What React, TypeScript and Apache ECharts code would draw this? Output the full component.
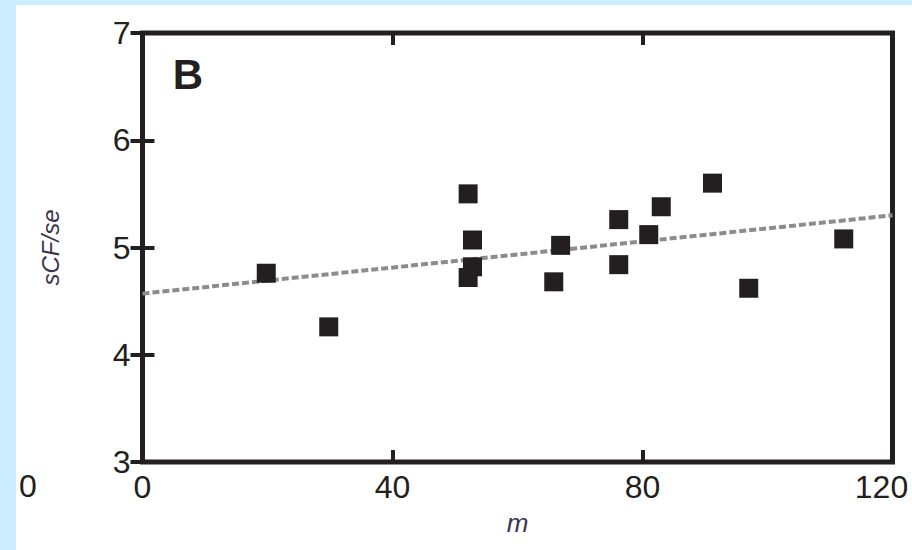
import React, { useEffect, useRef } from "react";
import * as echarts from "echarts";

// Measured points (m vs. ratio)
const xValues = [19.8, 29.8, 52.1, 52.8, 52.8, 52.1, 66.9, 65.8, 76.2, 76.2, 81.0, 83.0, 91.2, 97.0, 112.2];
const yValues = [4.76, 4.26, 5.5, 5.07, 4.82, 4.72, 5.02, 4.68, 5.26, 4.84, 5.12, 5.38, 5.6, 4.62, 5.08];

// Linear fit end points
const fitX = [0, 120];
const fitY = [4.57, 5.3];

// Axis ranges
const xRange = [0, 120];
const xStep = 40;
const yRange = [3, 7];
const yStep = 1;

const panelLabel = "B";
const xName = "m";
const yName = "sCF/se";
const strayLabel = "0";

const ink = "#231f20";
const labelFont = "'Liberation Sans', Arial, sans-serif";

export default function App() {
  const ref = useRef<HTMLDivElement>(null);

  useEffect(() => {
    if (!ref.current) return;
    const chart = echarts.init(ref.current, null, { renderer: "svg" });

    const points = xValues.map((x, i) => [x, yValues[i]]);
    const fit = fitX.map((x, i) => [x, fitY[i]]);

    const tick = { show: true, inside: true, length: 12, lineStyle: { color: ink, width: 4 } };
    const label = { color: ink, fontSize: 32, fontFamily: labelFont };

    chart.setOption({
      animation: false,
      backgroundColor: "#ffffff",
      grid: {
        left: 126.5,
        right: 19.5,
        top: 28,
        bottom: 88,
        outerBoundsMode: "none",
        containLabel: false,
        show: true,
        borderColor: ink,
        borderWidth: 5,
        backgroundColor: "transparent",
      },
      xAxis: [
        {
          type: "value",
          position: "bottom",
          min: xRange[0],
          max: xRange[1],
          interval: xStep,
          axisLine: { show: false },
          axisTick: tick,
          splitLine: { show: false },
          axisLabel: {
            ...label,
            margin: 9,
            // the last label is nudged left so it stays inside the frame
            formatter: (v: number) => (v === xRange[1] ? `{edge|${v}}` : `${v}`),
            rich: {
              edge: { ...label, padding: [0, 22, 0, 0] },
            },
          },
          name: xName,
          nameLocation: "middle",
          nameGap: 48,
          nameTextStyle: { fontStyle: "italic", fontSize: 26, color: "#3b3350", fontFamily: labelFont },
        },
        {
          type: "value",
          position: "top",
          min: xRange[0],
          max: xRange[1],
          interval: xStep,
          axisLine: { show: false },
          axisTick: tick,
          splitLine: { show: false },
          axisLabel: { show: false },
        },
      ],
      yAxis: [
        {
          type: "value",
          position: "left",
          min: yRange[0],
          max: yRange[1],
          interval: yStep,
          axisLine: { show: false },
          axisTick: tick,
          splitLine: { show: false },
          axisLabel: { ...label, margin: 12 },
          name: yName,
          nameLocation: "middle",
          nameGap: 80,
          nameTextStyle: { fontStyle: "italic", fontSize: 24, color: "#3b3350", fontFamily: labelFont },
        },
        {
          type: "value",
          position: "right",
          min: yRange[0],
          max: yRange[1],
          interval: yStep,
          axisLine: { show: false },
          axisTick: tick,
          splitLine: { show: false },
          axisLabel: { show: false },
        },
      ],
      graphic: [
        {
          type: "text",
          x: 172,
          y: 69,
          style: {
            text: panelLabel,
            fontSize: 42,
            fontWeight: "bold",
            fill: ink,
            fontFamily: labelFont,
            align: "center",
            verticalAlign: "middle",
          },
        },
        {
          type: "text",
          x: 12,
          y: 481,
          style: {
            text: strayLabel,
            fontSize: 32,
            fill: ink,
            fontFamily: labelFont,
            align: "center",
            verticalAlign: "middle",
          },
        },
      ],
      series: [
        {
          type: "line",
          data: fit,
          symbol: "none",
          z: 1,
          lineStyle: { color: "#8c8c8c", width: 4, type: [7, 3] },
        },
        {
          type: "scatter",
          data: points,
          symbol: "rect",
          symbolSize: 19,
          z: 3,
          itemStyle: { color: ink, opacity: 1 },
        },
      ],
    });

    return () => chart.dispose();
  }, []);

  return (
    <div style={{ position: "fixed", left: 0, top: 0, width: 912, height: 550, background: "#ccecff" }}>
      <div ref={ref} style={{ position: "absolute", left: 16, top: 5, width: 896, height: 545 }} />
    </div>
  );
}
